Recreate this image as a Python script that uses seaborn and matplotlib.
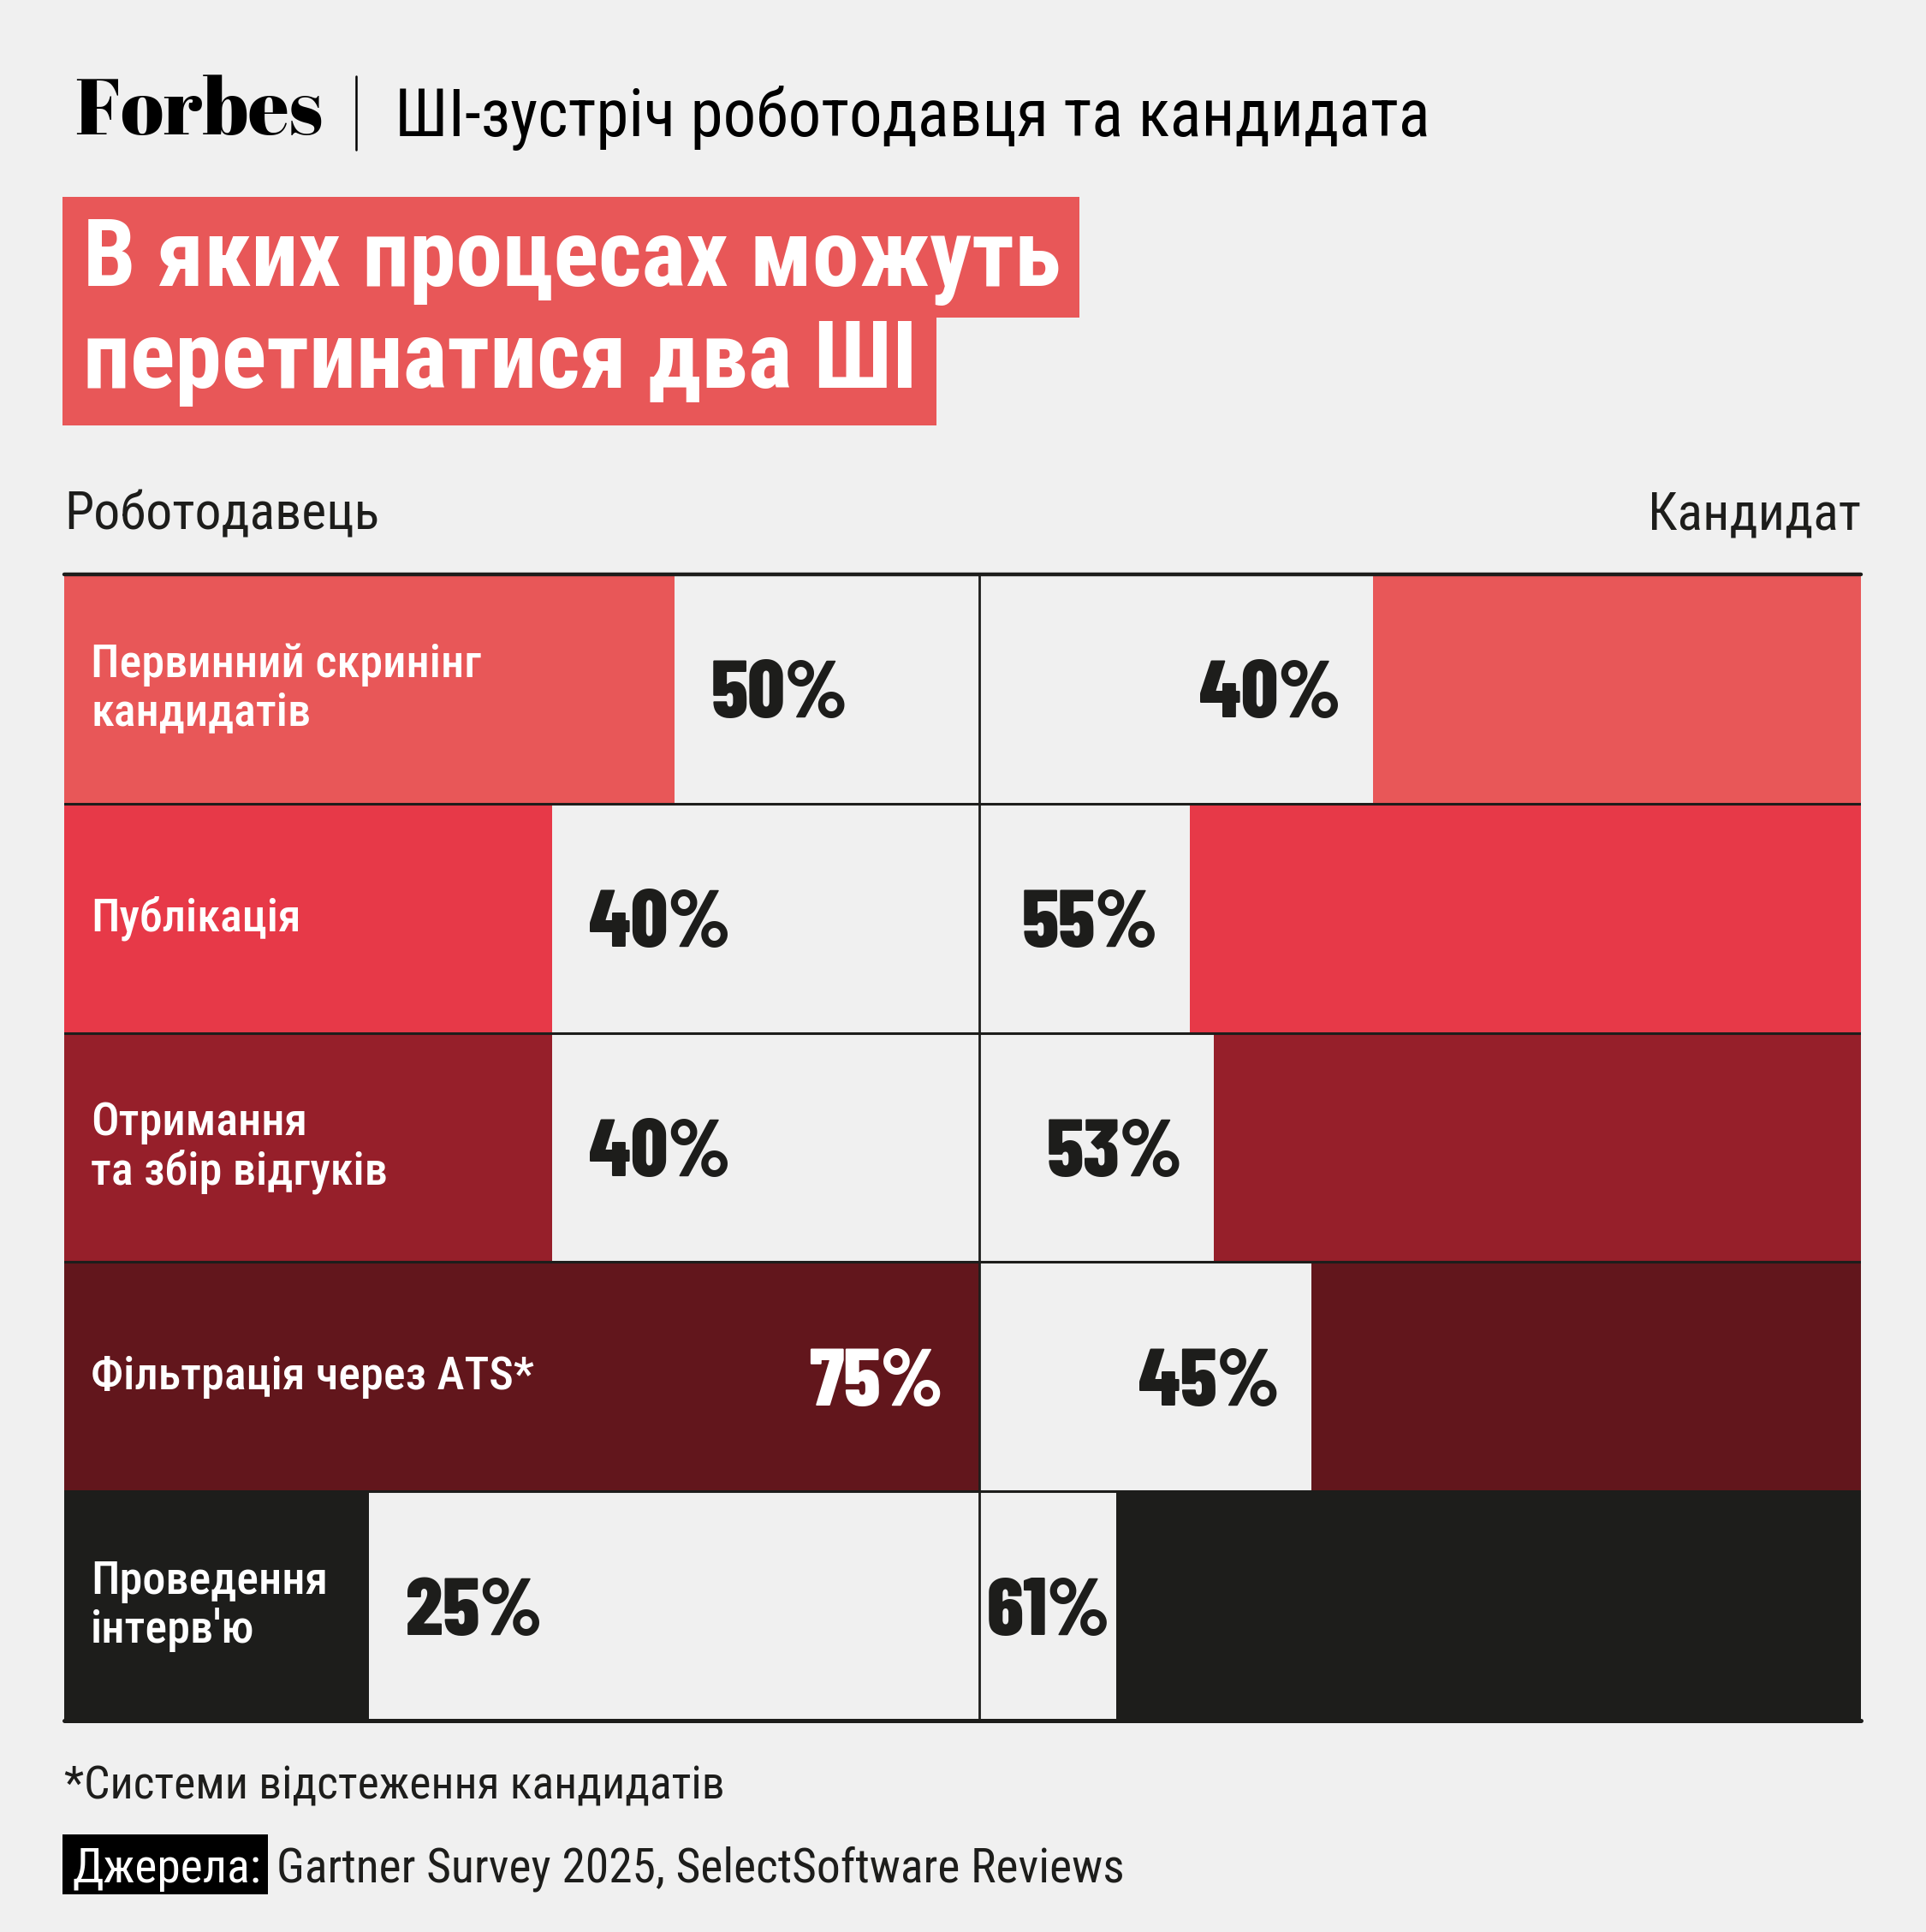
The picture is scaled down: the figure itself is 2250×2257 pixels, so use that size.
import matplotlib
matplotlib.use("Agg")
import matplotlib.pyplot as plt
from matplotlib.patches import Rectangle
from matplotlib.lines import Line2D
import seaborn as sns

# data
processes = ["Первинний скринінг\nкандидатів", "Публікація", "Отримання\nта збір відгуків",
             "Фільтрація через ATS*", "Проведення\nінтерв'ю"]
employer = [50, 40, 40, 75, 25]
candidate = [40, 55, 53, 45, 61]
row_colors = ["#E85758", "#E73948", "#961F2A", "#62161C", "#1D1D1B"]

brand = "Forbes"
subtitle = "ШІ-зустріч роботодавця та кандидата"
title_lines = ["В яких процесах можуть", "перетинатися два ШІ"]
side_left = "Роботодавець"
side_right = "Кандидат"
footnote = "*Системи відстеження кандидатів"
source_tag = "Джерела:"
source_text = "Gartner Survey 2025, SelectSoftware Reviews"

W, H = 2250, 2257
BG = "#F0F0F0"
INK = "#1D1D1B"
RED = "#E85758"
NARROW = ["Roboto Condensed", "DejaVu Sans"]
HEAVY = ["Barlow Condensed", "Roboto Condensed", "DejaVu Sans"]
LOGO = ["Abril Fatface", "Liberation Serif", "DejaVu Serif"]

sns.set_theme(style="white")
plt.rcParams["font.family"] = NARROW

fig = plt.figure(figsize=(W / 100, H / 100), dpi=100, facecolor=BG)


def fx(x):
    return x / W


def fy(y):
    return 1 - y / H


# chart area
left_px, right_px, top_px, bot_px = 75, 2174, 671, 2010
ax = fig.add_axes([fx(left_px), fy(bot_px), (right_px - left_px) / W, (bot_px - top_px) / H])
ax.set_facecolor(BG)
TOTAL = 147.2           # width of the chart in percent units
DIV = max(employer)     # the employer scale ends at the divider

sns.barplot(x=employer, y=processes, hue=processes, palette=row_colors, legend=False,
            width=1.0, saturation=1, orient="h", linewidth=0, ax=ax)
ax.set_xlim(0, TOTAL)

ax2 = ax.twiny()
sns.barplot(x=candidate, y=processes, hue=processes, palette=row_colors, legend=False,
            width=1.0, saturation=1, orient="h", linewidth=0, ax=ax2)
ax2.set_xlim(TOTAL, 0)

for a in (ax, ax2):
    a.set_ylim(len(processes) - 0.5, -0.5)
    a.set_xticks([])
    a.set_yticks([])
    a.set_xlabel("")
    a.set_ylabel("")
    for s in a.spines.values():
        s.set_visible(False)

# row rules and divider
ax2.axhline(-0.5, color=INK, lw=3.2, clip_on=False, zorder=5)
ax2.axhline(len(processes) - 0.5, color=INK, lw=3.6, clip_on=False, zorder=5)
for k in range(1, len(processes)):
    ax2.axhline(k - 0.5, color=INK, lw=2.2, zorder=5)
ax2.axvline(TOTAL - DIV, color=INK, lw=2.0, zorder=5)

row_px = (bot_px - top_px) / len(processes)
pct_size = 69
pct_off = 0.5 * 0.70 * pct_size * 100 / 72 / row_px
GAP_L = 3.0
GAP_R = 2.6
PCT_W = 11.0

for i, (name, ev, cv) in enumerate(zip(processes, employer, candidate)):
    ax.text(2.2, i, name, ha="left", va="center", color="white", fontsize=39,
            fontweight="medium", linespacing=1.12, zorder=6)
    # employer value
    if ev + GAP_L + PCT_W > DIV:
        ax.text(ev - GAP_L, i + pct_off, f"{ev}%", ha="right", va="baseline", color="white",
                fontsize=pct_size, fontweight=800, family=HEAVY, zorder=6)
    else:
        ax.text(ev + GAP_L, i + pct_off, f"{ev}%", ha="left", va="baseline", color=INK,
                fontsize=pct_size, fontweight=800, family=HEAVY, zorder=6)
    # candidate value
    if cv + GAP_R + PCT_W > TOTAL - DIV:
        ax2.text(TOTAL - DIV - 0.6, i + pct_off, f"{cv}%", ha="left", va="baseline", color=INK,
                 fontsize=pct_size, fontweight=800, family=HEAVY, zorder=6)
    else:
        ax2.text(cv + GAP_R, i + pct_off, f"{cv}%", ha="right", va="baseline", color=INK,
                 fontsize=pct_size, fontweight=800, family=HEAVY, zorder=6)

# header
fig.text(fx(87), fy(157), brand, family=LOGO, fontsize=66, color="black", va="baseline")
fig.add_artist(Line2D([fx(416), fx(416)], [fy(89), fy(175)], color="black", lw=1.8))
fig.text(fx(461), fy(159), subtitle, fontsize=55.4, color="black", va="baseline")

renderer = fig.canvas.get_renderer()
box_rows = [(230, 371, 334), (371, 497, 453)]
for line, (y0, y1, base) in zip(title_lines, box_rows):
    t = fig.text(fx(97), fy(base), line, fontsize=79, fontweight="bold", color="white",
                 va="baseline", zorder=3)
    bb = t.get_window_extent(renderer)
    x_end = bb.x1 + 22
    fig.add_artist(Rectangle((fx(73), fy(y1)), (x_end - 73) / W, (y1 - y0) / H,
                             transform=fig.transFigure, facecolor=RED, edgecolor="none", zorder=2))

fig.text(fx(75), fy(619), side_left, fontsize=44.5, color=INK, va="baseline")
fig.text(fx(2174), fy(619), side_right, fontsize=44.5, color=INK, va="baseline", ha="right")

# footer
fig.text(fx(75), fy(2102), footnote, fontsize=38.5, color=INK, va="baseline")
tag = fig.text(fx(84), fy(2199), source_tag, fontsize=40, color="white", va="baseline", zorder=3)
tb = tag.get_window_extent(renderer)
tag_end = tb.x1 + 8
fig.add_artist(Rectangle((fx(73), fy(2213)), (tag_end - 73) / W, 70 / H,
                         transform=fig.transFigure, facecolor="black", edgecolor="none", zorder=2))
fig.text(fx(tag_end + 10), fy(2199), source_text, fontsize=40, color=INK, va="baseline")

fig.savefig("out.png", dpi=100, facecolor=BG)
